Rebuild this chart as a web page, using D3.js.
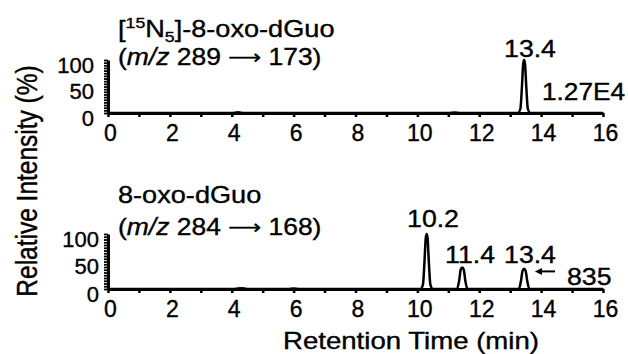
<!DOCTYPE html>
<html>
<head>
<meta charset="utf-8">
<script src="https://cdn.jsdelivr.net/npm/d3@7"></script>
<style>
  body { margin: 0; background: #fff; }
  text { font-family: "Liberation Sans", Arial, sans-serif; fill: #000; stroke: #000; stroke-width: 0.35px; }
</style>
</head>
<body>
<div id="chart"></div>
<script>
// chart size matches the window
var svgWidth = 628;
var svgHeight = 354;

// x ticks every minute, labels every 2 min
var xTickValues = [0, 1, 2, 3, 4, 5, 6, 7, 8, 9, 10, 11, 12, 13, 14, 15, 16];
var xTickLabels = [0, 2, 4, 6, 8, 10, 12, 14, 16];
// y ticks every 5 %, labels at 0/50/100
var yTickValues = [0, 5, 10, 15, 20, 25, 30, 35, 40, 45, 50, 55, 60, 65, 70, 75, 80, 85, 90, 95, 100];
var yTickLabels = [0, 50, 100];

// [15N5]-8-oxo-dGuo trace (retention time in min, relative intensity in %)
var topTime = [0, 4.0, 4.2, 4.4, 11.0, 11.2, 11.4, 13.25, 13.33, 13.38, 13.42, 13.45, 13.48, 13.52, 13.57, 13.65, 16];
var topInt  = [0, 0, 1.5, 0, 0, 1, 0, 0, 8, 50, 92, 100, 92, 50, 8, 0, 0];

// 8-oxo-dGuo trace
var botTime = [0, 4.1, 4.3, 4.5, 5.8, 6.0, 6.2, 10.1, 10.18, 10.23, 10.27, 10.3, 10.33, 10.37, 10.42, 10.5,
               11.28, 11.35, 11.4, 11.45, 11.5, 11.55, 11.62, 13.28, 13.35, 13.4, 13.45, 13.5, 13.55, 13.62, 16];
var botInt  = [0, 0, 1.5, 0, 0, 1, 0, 0, 8, 50, 92, 100, 92, 50, 8, 0,
               0, 15, 35, 39, 35, 15, 0, 0, 15, 33, 37, 33, 15, 0, 0];

var svg = d3.select("#chart")
    .append("svg")
    .attr("width", svgWidth)
    .attr("height", svgHeight);

var x = d3.scaleLinear().domain([0, 16]).range([108, 603]);
var yTop = d3.scaleLinear().domain([0, 100]).range([113, 60]);
var yBot = d3.scaleLinear().domain([0, 100]).range([289, 234]);

function drawPanel(y, times, values, yPad) {
    var xAxis = svg.append("g")
        .attr("transform", "translate(0," + y(0) + ")")
        .call(d3.axisBottom(x)
            .tickValues(xTickValues)
            .tickSize(4)
            .tickSizeOuter(0)
            .tickPadding(8)
            .tickFormat(function(d) { return xTickLabels.indexOf(d) >= 0 ? d : ""; }));
    xAxis.select(".domain").attr("stroke-width", 3);
    xAxis.selectAll(".tick line").attr("stroke-width", 2.5);
    xAxis.selectAll(".tick text").attr("font-size", 23).attr("dx", 2).attr("font-family", null);

    var yAxis = svg.append("g")
        .attr("transform", "translate(" + x(0) + ",0)")
        .call(d3.axisLeft(y)
            .tickValues(yTickValues)
            .tickSize(4)
            .tickSizeOuter(0)
            .tickPadding(yPad)
            .tickFormat(function(d) { return yTickLabels.indexOf(d) >= 0 ? d : ""; }));
    yAxis.select(".domain").attr("stroke-width", 3);
    yAxis.selectAll(".tick line").attr("stroke-width", 1.8);
    yAxis.selectAll(".tick text").attr("font-size", 22).attr("dy", "0.55em").attr("font-family", null);

    var pts = times.map(function(t, i) { return [t, values[i]]; });
    var line = d3.line()
        .x(function(d) { return x(d[0]); })
        .y(function(d) { return y(d[1]); })
        .curve(d3.curveMonotoneX);
    svg.append("path")
        .datum(pts)
        .attr("d", line)
        .attr("fill", "none")
        .attr("stroke", "#000")
        .attr("stroke-width", 2.5)
        .attr("stroke-linejoin", "round");
}

drawPanel(yTop, topTime, topInt, 10);
drawPanel(yBot, botTime, botInt, 5);

// text in the figure is a bit wider than it is tall
function label(px, py, size, sx, anchor) {
    return svg.append("text")
        .attr("transform", "translate(" + px + "," + py + ") scale(" + sx + ",1)")
        .attr("font-size", size)
        .attr("text-anchor", anchor || "start");
}

function massLine(py, parent, daughter) {
    var t = label(118, py, 23, 1.15);
    t.append("tspan").text("(");
    t.append("tspan").attr("font-style", "italic").text("m/z");
    t.append("tspan").text(" " + parent + " ");
    t.append("tspan").attr("font-family", "DejaVu Sans").attr("font-size", 20).attr("dy", -1).text("\u27F6");
    t.append("tspan").attr("dy", 1).text(" " + daughter + ")");
}

// panel titles
var t1 = label(118, 37, 23, 1.18);
t1.append("tspan").text("[");
t1.append("tspan").attr("font-size", 15).attr("dy", -9).text("15");
t1.append("tspan").attr("dy", 9).text("N");
t1.append("tspan").attr("font-size", 15).attr("dy", 5).text("5");
t1.append("tspan").attr("dy", -5).text("]-8-oxo-dGuo");
massLine(65, 289, 173);

label(118, 203, 23, 1.18).text("8-oxo-dGuo");
massLine(235, 284, 168);

// peak labels
label(530, 57, 23, 1.16, "middle").text("13.4");
label(542, 100, 23, 1.14).text("1.27E4");
label(433, 227, 23, 1.16, "middle").text("10.2");
label(470, 263, 23, 1.16, "middle").text("11.4");
label(530, 263, 23, 1.16, "middle").text("13.4");
label(567, 285, 23, 1.16).text("835");

// arrow pointing at the 13.4 peak in the lower trace
svg.append("line")
    .attr("x1", x(14.45)).attr("x2", x(13.95))
    .attr("y1", yBot(32)).attr("y2", yBot(32))
    .attr("stroke", "#000").attr("stroke-width", 2);
svg.append("path")
    .attr("d", "M" + x(13.8) + "," + yBot(32) + "l7,-3.5v7z")
    .attr("fill", "#000");

// axis titles
svg.append("text")
    .attr("transform", "translate(37,181) rotate(-90) scale(1,1.18)")
    .attr("font-size", 24.5)
    .attr("text-anchor", "middle")
    .text("Relative Intensity (%)");

label(411, 349, 23, 1.2, "middle").text("Retention Time (min)");
</script>
</body>
</html>
